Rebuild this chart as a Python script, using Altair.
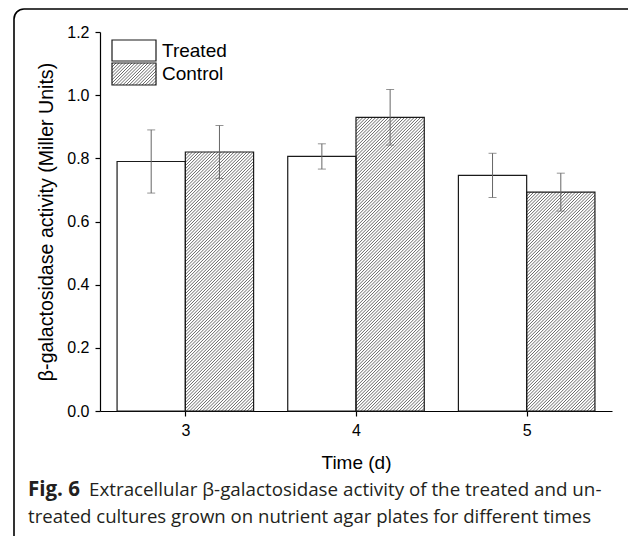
import altair as alt
import pandas as pd
import numpy as np

# ---- data ----
days = [3, 4, 5]
treated = [0.79, 0.806, 0.746]
treated_err = [0.10, 0.04, 0.07]
control = [0.82, 0.93, 0.693]
control_err = [0.084, 0.088, 0.06]
groups = ["Treated", "Control"]
y_ticks = [0.0, 0.2, 0.4, 0.6, 0.8, 1.0, 1.2]
caption_bold = "Fig. 6"
caption_1 = "Extracellular β-galactosidase activity of the treated and un-"
caption_2 = "treated cultures grown on nutrient agar plates for different times"

# ---- geometry ----
W, H = 512, 379
XMIN, XMAX = 2.5, 5.5
YMIN, YMAX = 0.0, 1.2
sx = W / (XMAX - XMIN)
sy = H / (YMAX - YMIN)
BW = 0.4

rows = []
for d, t, te, c, ce in zip(days, treated, treated_err, control, control_err):
    rows.append(dict(day=d, group="Treated", x0=d - BW, x1=d, v=t, lo=t - te, hi=t + te))
    rows.append(dict(day=d, group="Control", x0=d, x1=d + BW, v=c, lo=c - ce, hi=c + ce))
bars = pd.DataFrame(rows)
bars["base"] = 0.0
bars["xc"] = (bars.x0 + bars.x1) / 2


def hatch_px(px0, px1, py0, py1, step=3.2):
    """45-degree '/' hatch lines in pixel space (y down) clipped to a rectangle."""
    out = []
    c = px0 + py0 + 0.8
    while c < px1 + py1:
        xa = max(px0, c - py1)
        xb = min(px1, c - py0)
        if xb - xa > 0.05:
            out.append((xa, c - xa, xb, c - xb))
        c += step
    return out


def to_data(seg):
    xa, ya, xb, yb = seg
    return dict(
        hx=XMIN + xa / sx, hy=YMAX - ya / sy,
        hx2=XMIN + xb / sx, hy2=YMAX - yb / sy,
    )


hatch_rows = []
for _, r in bars[bars.group == "Control"].iterrows():
    px0 = (r.x0 - XMIN) * sx
    px1 = (r.x1 - XMIN) * sx
    py0 = (YMAX - r.v) * sy
    py1 = (YMAX - 0) * sy
    for s in hatch_px(px0, px1, py0, py1):
        hatch_rows.append(to_data(s))

# legend swatches (pixel positions inside plot area)
LEG_X0, LEG_X1 = 12, 56
TREAT_Y = (8, 29)
CTRL_Y = (31, 53)
for s in hatch_px(LEG_X0, LEG_X1, CTRL_Y[0], CTRL_Y[1]):
    hatch_rows.append(to_data(s))
hatch = pd.DataFrame(hatch_rows)

xscale = alt.Scale(domain=[XMIN, XMAX], nice=False, zero=False)
yscale = alt.Scale(domain=[YMIN, YMAX], nice=False)

AX = dict(grid=False, tickSize=5, domainColor="black", tickColor="black",
          labelFont="Liberation Sans", titleFont="Liberation Sans",
          labelFontSize=16, labelColor="black", titleColor="black",
          titleFontWeight="normal", domainWidth=1.2, tickWidth=1.2)

X = alt.X("x0:Q", scale=xscale,
          axis=alt.Axis(values=days, format="d", title="Time (d)", titleFontSize=19,
                        labelPadding=6, titlePadding=15, **AX))
Y = alt.Y("v:Q", scale=yscale,
          axis=alt.Axis(values=y_ticks, format=".1f", titleFontSize=19.6,
                        title="β-galactosidase activity (Miller Units)",
                        labelPadding=6, titlePadding=10, **AX))

base = alt.Chart(bars)

fills = base.mark_rect(fill="white").encode(
    x=X, x2="x1:Q", y=Y, y2="base:Q")

hatch_layer = alt.Chart(hatch).mark_rule(color="#6a6a6a", strokeWidth=1).encode(
    x=alt.X("hx:Q", scale=xscale), x2="hx2:Q",
    y=alt.Y("hy:Q", scale=yscale), y2="hy2:Q")

outlines = base.mark_rect(fill="transparent", stroke="#1a1a1a", strokeWidth=1.2).encode(
    x=alt.X("x0:Q", scale=xscale), x2="x1:Q",
    y=alt.Y("v:Q", scale=yscale), y2="base:Q")

ebase = alt.Chart(bars)
err_v = ebase.mark_rule(color="#666666", strokeWidth=1).encode(
    x=alt.X("xc:Q", scale=xscale),
    y=alt.Y("lo:Q", scale=yscale), y2="hi:Q")
cap_lo = ebase.mark_tick(color="#666666", thickness=1, size=8, orient="horizontal").encode(
    x=alt.X("xc:Q", scale=xscale), y=alt.Y("lo:Q", scale=yscale))
cap_hi = ebase.mark_tick(color="#666666", thickness=1, size=8, orient="horizontal").encode(
    x=alt.X("xc:Q", scale=xscale), y=alt.Y("hi:Q", scale=yscale))

one = pd.DataFrame({"k": [0]})
leg_t = alt.Chart(one).mark_rect(fill="white", stroke="#1a1a1a", strokeWidth=1.2).encode(
    x=alt.value(LEG_X0), x2=alt.value(LEG_X1), y=alt.value(TREAT_Y[0]), y2=alt.value(TREAT_Y[1]))
leg_c = alt.Chart(one).mark_rect(fill="transparent", stroke="#1a1a1a", strokeWidth=1.2).encode(
    x=alt.value(LEG_X0), x2=alt.value(LEG_X1), y=alt.value(CTRL_Y[0]), y2=alt.value(CTRL_Y[1]))
leg_labels = alt.Chart(pd.DataFrame({"lab": groups, "yy": [19, 42]})).mark_text(
    align="left", baseline="middle", font="Liberation Sans", fontSize=19, color="black"
).encode(x=alt.value(62), y=alt.Y("yy:Q", scale=None), text="lab:N")

border = alt.Chart(one).mark_rect(fill="transparent", stroke="black", strokeWidth=1.6,
                                  cornerRadius=10, clip=False).encode(
    x=alt.value(-86), x2=alt.value(538), y=alt.value(-23), y2=alt.value(516))

cap_b = alt.Chart(pd.DataFrame({"t": [caption_bold]})).mark_text(
    align="left", baseline="alphabetic", font="Open Sans", fontSize=20.5, fontWeight="bold",
    color="#231f20").encode(x=alt.value(-72), y=alt.value(464), text="t:N")
cap_1 = alt.Chart(pd.DataFrame({"t": [caption_1]})).mark_text(
    align="left", baseline="alphabetic", font="Open Sans", fontSize=18.8,
    color="#231f20").encode(x=alt.value(-11), y=alt.value(464), text="t:N")
cap_2 = alt.Chart(pd.DataFrame({"t": [caption_2]})).mark_text(
    align="left", baseline="alphabetic", font="Open Sans", fontSize=18.6,
    color="#231f20").encode(x=alt.value(-72), y=alt.value(491), text="t:N")

chart = alt.layer(
    fills, hatch_layer, outlines, err_v, cap_lo, cap_hi,
    leg_t, leg_c, leg_labels, border, cap_b, cap_1, cap_2
).properties(
    width=W, height=H,
    autosize=alt.AutoSizeParams(type="none"),
    padding={"left": 92, "top": 24, "right": 16, "bottom": 125},
    background="white",
).configure_view(strokeWidth=0)

chart.save("out.html", embed_options={"renderer": "svg", "actions": False})
